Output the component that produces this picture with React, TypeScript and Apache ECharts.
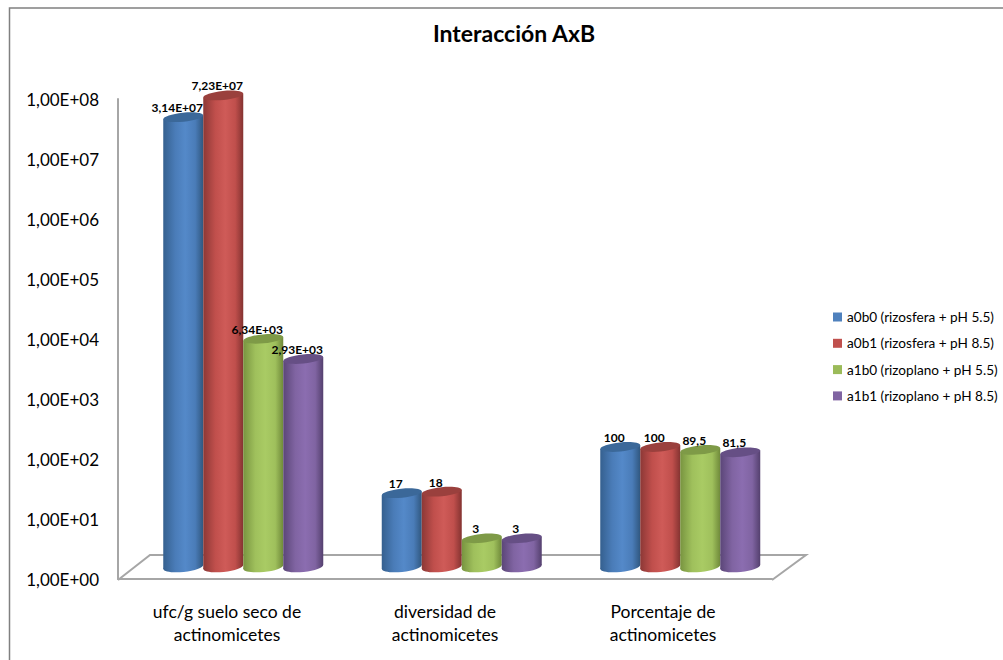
import React, { useEffect, useRef } from "react";
import * as echarts from "echarts";

const categories = ["ufc/g suelo seco de\nactinomicetes", "diversidad de\nactinomicetes", "Porcentaje de\nactinomicetes"];
const seriesNames = [
  "a0b0 (rizosfera + pH 5.5)",
  "a0b1 (rizosfera + pH 8.5)",
  "a1b0 (rizoplano + pH 5.5)",
  "a1b1 (rizoplano + pH 8.5)",
];
const a0b0 = [3.14e7, 17, 100];
const a0b1 = [7.23e7, 18, 100];
const a1b0 = [6.34e3, 3, 89.5];
const a1b1 = [2.93e3, 3, 81.5];
const seriesValues = [a0b0, a0b1, a1b0, a1b1];

// flat legend colour, then the cylinder wall shading (edge, centre, highlight, edge) and lid colour
const flatColors = ["#4f81bd", "#c0504d", "#9bbb59", "#8064a2"];
const wallColors = [
  ["#35608f", "#4a7cb8", "#5489c9", "#30577f"],
  ["#8c3836", "#c04f4c", "#cf5b58", "#843331"],
  ["#789440", "#9fc05c", "#a9cb64", "#6f893a"],
  ["#5b4678", "#8064a2", "#8b6db0", "#54406e"],
];
const lidColors = ["#3b6899", "#9a403d", "#7e9a47", "#664f85"];

const FONT = "Lato, 'Open Sans', sans-serif";
const BAR_WIDTH = 40;
const BAND = 218.5;
const TILT = 0.1;

// Excel-style label: scientific notation for counts, decimal comma otherwise
function formatValue(v: number): string {
  if (v >= 1000) {
    const [m, e] = v.toExponential(2).split("e+");
    return `${m.replace(".", ",")}E+${e.padStart(2, "0")}`;
  }
  return String(v).replace(".", ",");
}

function formatTick(v: number): string {
  return `1,00E+${String(Math.round(Math.log10(v))).padStart(2, "0")}`;
}

function wallGradient(i: number) {
  const c = wallColors[i];
  return new echarts.graphic.LinearGradient(0, 0, 1, 0, [
    { offset: 0, color: c[0] },
    { offset: 0.3, color: c[1] },
    { offset: 0.55, color: c[2] },
    { offset: 0.8, color: c[1] },
    { offset: 1, color: c[3] },
  ]);
}

function cylinderRenderer(i: number) {
  return (_params: any, api: any) => {
    const cat = api.value(0);
    const top = api.coord([cat, api.value(1)]);
    const base = api.coord([cat, 1]);
    const cx = top[0] + (i - 1.5) * BAR_WIDTH;
    const r = BAR_WIDTH / 2;
    const dy = r * Math.sin(TILT);
    const fill = wallGradient(i);
    return {
      type: "group",
      children: [
        {
          type: "ellipse",
          x: cx,
          y: base[1],
          rotation: TILT,
          shape: { cx: 0, cy: 0, rx: r, ry: 5 },
          style: { fill },
        },
        {
          type: "polygon",
          shape: {
            points: [
              [cx - r, top[1] + dy],
              [cx + r, top[1] - dy],
              [cx + r, base[1] - dy],
              [cx - r, base[1] + dy],
            ],
          },
          style: { fill },
        },
        {
          type: "ellipse",
          x: cx,
          y: top[1],
          rotation: TILT,
          shape: { cx: 0, cy: 0, rx: r, ry: 4.5 },
          style: { fill: lidColors[i] },
        },
      ],
    };
  };
}

function labelRenderer(i: number) {
  return (_params: any, api: any) => {
    const top = api.coord([api.value(0), api.value(1)]);
    return {
      type: "text",
      x: top[0] + (i - 1.5) * BAR_WIDTH - 6,
      y: top[1] - 9.5,
      style: {
        text: formatValue(api.value(1)),
        font: `bold 12px ${FONT}`,
        fill: "#000",
        align: "center",
        verticalAlign: "middle",
      },
    };
  };
}

export default function App() {
  const ref = useRef<HTMLDivElement>(null);

  useEffect(() => {
    document.body.style.margin = "0";
    const chart = echarts.init(ref.current!, undefined, { renderer: "svg" });
    const cats = categories.map((_, k) => k);
    chart.setOption({
      animation: false,
      backgroundColor: "#fff",
      title: {
        text: "Interacción AxB",
        left: 509,
        top: 16,
        textAlign: "center",
        textStyle: { fontFamily: FONT, fontSize: 23, fontWeight: "bold", color: "#000" },
      },
      legend: {
        orient: "vertical",
        left: 828,
        top: 305,
        itemWidth: 9,
        itemHeight: 9,
        itemGap: 12.3,
        icon: "rect",
        data: seriesNames.map((name, i) => ({ name, itemStyle: { color: flatColors[i] } })),
        textStyle: { fontFamily: FONT, fontSize: 13.6, color: "#000", padding: [0, 0, 0, 0] },
      },
      grid: [
        // front plane: carries the visible axes and their labels
        { left: 118, width: 654, top: 99, height: 480 },
        // mid-depth plane where the cylinders stand, raised above the front edge of the floor
        { left: 134, width: BAND * 3, top: 87, height: 480 },
      ],
      xAxis: [
        {
          type: "category",
          gridIndex: 0,
          data: categories,
          axisTick: { show: false },
          axisLine: { lineStyle: { color: "#a6a6a6", width: 2 } },
          axisLabel: { fontFamily: FONT, fontSize: 17.5, color: "#000", lineHeight: 23, margin: 21, interval: 0 },
        },
        { type: "category", gridIndex: 1, data: cats, show: false },
      ],
      yAxis: [
        {
          type: "log",
          gridIndex: 0,
          min: 1,
          max: 1e8,
          logBase: 10,
          axisLine: { show: true, lineStyle: { color: "#a6a6a6", width: 2 } },
          axisTick: { show: false },
          splitLine: { show: false },
          minorSplitLine: { show: false },
          axisLabel: {
            fontFamily: FONT,
            fontSize: 17,
            color: "#000",
            margin: 18,
            padding: [2, 1, 0, 0],
            formatter: (v: number) => formatTick(v),
          },
        },
        { type: "log", gridIndex: 1, min: 1, max: 1e8, logBase: 10, show: false, splitLine: { show: false } },
      ],
      // floor of the 3D box and the chart-area frame, behind the cylinders
      graphic: [
        {
          type: "polyline",
          z: 0,
          shape: { points: [[118, 580], [150, 555], [806, 555], [772, 580]] },
          style: { stroke: "#a6a6a6", lineWidth: 2, fill: "none" },
        },
        {
          type: "rect",
          z: 0,
          shape: { x: 9.5, y: 8, width: 1100, height: 800 },
          style: { stroke: "#808080", lineWidth: 1.5, fill: "none" },
        },
      ],
      series: [
        ...seriesValues.map((values, i) => ({
          type: "custom",
          name: seriesNames[i],
          xAxisIndex: 1,
          yAxisIndex: 1,
          z: 3,
          itemStyle: { color: flatColors[i] },
          data: values.map((v, k) => [k, v]),
          encode: { x: 0, y: 1 },
          renderItem: cylinderRenderer(i),
        })),
        ...seriesValues.map((values, i) => ({
          type: "custom",
          name: seriesNames[i],
          xAxisIndex: 1,
          yAxisIndex: 1,
          z: 6,
          itemStyle: { color: flatColors[i] },
          data: values.map((v, k) => [k, v]),
          encode: { x: 0, y: 1 },
          renderItem: labelRenderer(i),
        })),
      ],
    });
    return () => chart.dispose();
  }, []);

  return <div ref={ref} style={{ width: 1003, height: 660 }} />;
}
